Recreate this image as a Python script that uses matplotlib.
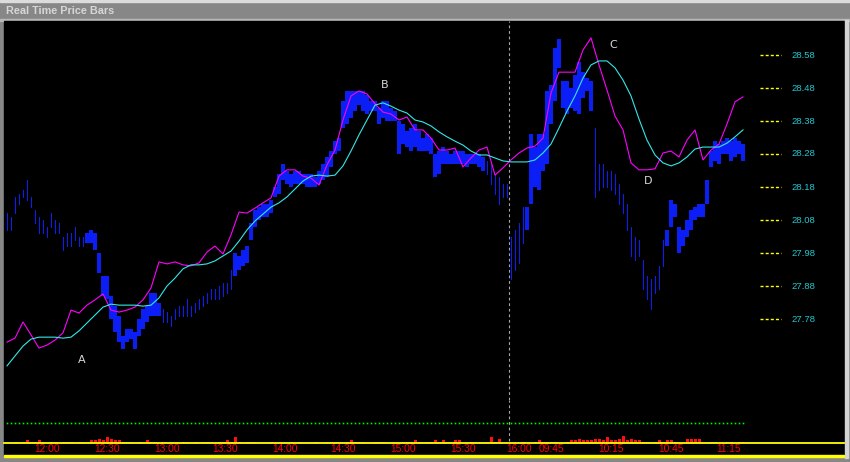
import numpy as np
import matplotlib.pyplot as plt
from matplotlib.patches import Rectangle

# 2-minute price bars (high / low)
bar_high = [
    28.10, 28.09, 28.15, 28.16, 28.17, 28.20, 28.15, 28.11, 28.09, 28.08,
    28.06, 28.10, 28.08, 28.07, 28.03, 28.04, 28.04, 28.06, 28.03, 28.03,
    28.04, 28.05, 28.04, 27.98, 27.91, 27.91, 27.85, 27.82, 27.79, 27.73,
    27.75, 27.75, 27.74, 27.78, 27.81, 27.82, 27.86, 27.86, 27.83, 27.81,
    27.80, 27.79, 27.81, 27.82, 27.82, 27.84, 27.82, 27.83, 27.84, 27.85,
    27.86, 27.87, 27.87, 27.88, 27.89, 27.89, 27.93, 27.98, 27.97, 27.99,
    28.00, 28.07, 28.11, 28.12, 28.13, 28.13, 28.14, 28.18, 28.22, 28.25,
    28.23, 28.22, 28.23, 28.23, 28.22, 28.22, 28.22, 28.21, 28.23, 28.25,
    28.27, 28.29, 28.32, 28.33, 28.44, 28.47, 28.47, 28.47, 28.47, 28.47,
    28.46, 28.44, 28.44, 28.42, 28.44, 28.44, 28.42, 28.41, 28.38, 28.37,
    28.35, 28.36, 28.37, 28.35, 28.33, 28.34, 28.33, 28.28, 28.29, 28.30,
    28.29, 28.28, 28.29, 28.29, 28.29, 28.28, 28.28, 28.28, 28.28, 28.27,
    28.26, 28.25, 28.22, 28.21, 28.19, 28.19, 28.03, 28.05, 28.07, 28.12,
    28.12, 28.34, 28.30, 28.34, 28.34, 28.47, 28.49, 28.60, 28.63, 28.50,
    28.50, 28.48, 28.52, 28.56, 28.53, 28.51, 28.50, 28.36, 28.25, 28.25,
    28.23, 28.23, 28.22, 28.19, 28.16, 28.13, 28.06, 28.03, 28.02, 27.96,
    27.91, 27.90, 27.91, 27.94, 28.02, 28.05, 28.14, 28.13, 28.06, 28.05,
    28.08, 28.11, 28.12, 28.13, 28.13, 28.20, 28.29, 28.32, 28.31, 28.32,
    28.33, 28.32, 28.33, 28.32, 28.31,
]
bar_low = [
    28.05, 28.05, 28.10, 28.13, 28.15, 28.14, 28.12, 28.07, 28.04, 28.04,
    28.03, 28.06, 28.04, 28.04, 27.99, 28.00, 28.00, 28.02, 28.00, 28.00,
    28.01, 28.01, 27.99, 27.92, 27.85, 27.84, 27.78, 27.74, 27.71, 27.69,
    27.71, 27.72, 27.69, 27.73, 27.75, 27.77, 27.79, 27.79, 27.79, 27.77,
    27.77, 27.76, 27.78, 27.79, 27.79, 27.79, 27.79, 27.80, 27.81, 27.82,
    27.83, 27.84, 27.84, 27.84, 27.85, 27.86, 27.87, 27.91, 27.93, 27.94,
    27.95, 28.02, 28.06, 28.08, 28.09, 28.09, 28.10, 28.15, 28.16, 28.20,
    28.19, 28.18, 28.19, 28.19, 28.19, 28.18, 28.18, 28.18, 28.19, 28.20,
    28.21, 28.24, 28.28, 28.29, 28.36, 28.37, 28.39, 28.41, 28.43, 28.41,
    28.40, 28.41, 28.41, 28.37, 28.39, 28.38, 28.38, 28.38, 28.28, 28.31,
    28.30, 28.29, 28.30, 28.29, 28.29, 28.29, 28.28, 28.21, 28.22, 28.25,
    28.25, 28.25, 28.25, 28.25, 28.25, 28.24, 28.25, 28.25, 28.24, 28.23,
    28.22, 28.19, 28.16, 28.13, 28.15, 28.15, 27.90, 27.93, 27.95, 28.01,
    28.05, 28.13, 28.18, 28.17, 28.23, 28.25, 28.37, 28.44, 28.54, 28.42,
    28.40, 28.42, 28.41, 28.40, 28.45, 28.47, 28.41, 28.15, 28.17, 28.18,
    28.18, 28.17, 28.16, 28.13, 28.10, 28.05, 27.97, 27.96, 27.97, 27.87,
    27.84, 27.81, 27.86, 27.87, 27.94, 28.00, 28.06, 28.09, 27.98, 28.00,
    28.03, 28.05, 28.08, 28.09, 28.09, 28.13, 28.24, 28.26, 28.25, 28.28,
    28.28, 28.26, 28.27, 28.28, 28.26,
]

# runs of bars drawn heavy (1) or thin (0): (number of bars, state)
bar_runs = [(20, 0), (19, 1), (18, 0), (63, 1), (10, 0), (17, 1), (18, 0), (20, 1)]

# moving averages, one value every second bar
fast_avg = [
    27.710, 27.722, 27.771, 27.732, 27.692, 27.701, 27.716, 27.738, 27.807, 27.798,
    27.822, 27.838, 27.856, 27.807, 27.801, 27.807, 27.816, 27.838, 27.874, 27.953,
    27.947, 27.953, 27.944, 27.941, 27.950, 27.983, 28.001, 27.977, 28.035, 28.104,
    28.101, 28.116, 28.132, 28.147, 28.213, 28.232, 28.232, 28.213, 28.207, 28.186,
    28.247, 28.292, 28.383, 28.456, 28.471, 28.462, 28.432, 28.407, 28.401, 28.383,
    28.392, 28.353, 28.353, 28.328, 28.292, 28.292, 28.298, 28.241, 28.268, 28.292,
    28.301, 28.216, 28.238, 28.262, 28.283, 28.298, 28.304, 28.328, 28.465, 28.528,
    28.528, 28.528, 28.595, 28.632, 28.550, 28.474, 28.395, 28.353, 28.253, 28.232,
    28.232, 28.235, 28.283, 28.289, 28.271, 28.322, 28.353, 28.262, 28.292, 28.310,
    28.371, 28.438, 28.453,
]
slow_avg = [
    27.638, 27.668, 27.698, 27.719, 27.725, 27.725, 27.725, 27.722, 27.725, 27.744,
    27.768, 27.792, 27.816, 27.825, 27.822, 27.822, 27.822, 27.819, 27.822, 27.844,
    27.880, 27.904, 27.932, 27.944, 27.944, 27.947, 27.956, 27.971, 27.986, 28.016,
    28.050, 28.077, 28.098, 28.119, 28.132, 28.150, 28.174, 28.198, 28.213, 28.216,
    28.213, 28.216, 28.244, 28.289, 28.338, 28.383, 28.428, 28.435, 28.425, 28.413,
    28.404, 28.383, 28.377, 28.365, 28.347, 28.332, 28.319, 28.307, 28.289, 28.277,
    28.277, 28.268, 28.259, 28.256, 28.256, 28.256, 28.262, 28.283, 28.310, 28.359,
    28.410, 28.456, 28.510, 28.550, 28.562, 28.562, 28.541, 28.504, 28.456, 28.386,
    28.322, 28.277, 28.253, 28.244, 28.253, 28.271, 28.295, 28.301, 28.301, 28.301,
    28.313, 28.332, 28.353,
]

volume = [
    1, 0, 1, 0, 1, 2, 1, 1, 2, 1,
    0, 1, 1, 0, 1, 1, 1, 0, 1, 1,
    0, 2, 2, 3, 2, 4, 3, 2, 2, 1,
    1, 1, 0, 1, 0, 2, 1, 1, 0, 1,
    0, 0, 0, 0, 1, 1, 0, 1, 0, 1,
    1, 0, 0, 1, 1, 2, 1, 4, 1, 0,
    1, 1, 1, 0, 0, 0, 1, 0, 0, 0,
    0, 0, 0, 1, 0, 0, 0, 1, 0, 0,
    1, 1, 1, 1, 0, 1, 2, 1, 1, 1,
    0, 0, 1, 1, 1, 0, 0, 0, 0, 1,
    1, 1, 2, 1, 0, 1, 1, 2, 1, 2,
    1, 0, 2, 2, 0, 0, 1, 1, 1, 0,
    0, 4, 1, 3, 0, 0, 0, 0, 0, 1,
    0, 0, 1, 2, 1, 1, 1, 1, 0, 0,
    1, 2, 2, 3, 2, 2, 2, 3, 3, 2,
    4, 2, 2, 3, 5, 2, 3, 2, 2, 1,
    1, 0, 1, 2, 1, 2, 2, 1, 0, 0,
    3, 3, 3, 3, 0, 0, 1, 1, 0, 0,
    1, 1, 0, 1, 1,
]

time_labels = ["12:00", "12:30", "13:00", "13:30", "14:00", "14:30", "15:00",
               "15:30", "16:00", "09:45", "10:15", "10:45", "11:15"]
time_bars = [10, 25, 40, 54.5, 69.5, 84, 99, 114, 128, 136, 151, 166, 180.5]
price_levels = [28.58, 28.48, 28.38, 28.28, 28.18, 28.08, 27.98, 27.88, 27.78]
session_end = 125  # last bar of the first day

swing_names = ["A", "B", "C", "D"]
swing_bars = [18.75, 94.5, 151.5, 160.25]
swing_prices = [27.656, 28.489, 28.61, 28.198]

W, H = 850, 462
fig = plt.figure(figsize=(W / 100, H / 100), dpi=100, facecolor="#878787")

def box(x0, y0, x1, y1, color):
    # rectangle given in pixels from the top left corner
    fig.patches.append(Rectangle((x0 / W, 1 - y1 / H), (x1 - x0) / W, (y1 - y0) / H,
                                 transform=fig.transFigure, color=color, zorder=-10))

box(0, 0, W, 1.5, "#dcdcdc")
box(0, 19, W, 20.5, "#b8b8b8")
box(4, 20.5, 844, 456, "black")
box(845, 20, 847.5, 458, "#d4d4d4")
box(4, 455, 844, 457, "#ffff00")
fig.text(6 / W, 1 - 10.5 / H, "Real Time Price Bars", color="#d6d6d6", fontsize=7.8,
         fontweight="bold", family="Liberation Sans", va="center", ha="left")

# price panel: one bar every 4 pixels
ax = fig.add_axes([4 / W, 1 - 400 / H, 840 / W, 379.5 / H])
ax.set_axis_off()
ax.set_xlim(-0.75, 209.25)
ax.set_ylim(28.58 - 345 / 330, 28.58 + 34.5 / 330)

x = np.arange(len(bar_high))
lo = np.array(bar_low)
hi = np.array(bar_high)
heavy = np.repeat([s for n, s in bar_runs], [n for n, s in bar_runs]).astype(bool)
ax.vlines(x[~heavy], lo[~heavy], hi[~heavy], colors="#0a1ef5", lw=0.7,
          antialiased=False)
ax.vlines(x[heavy], lo[heavy], hi[heavy], colors="#0a1ef5", lw=1.45,
          antialiased=False)
ax.plot(np.arange(len(fast_avg)) * 2, fast_avg, color="#ff00ff", lw=0.8)
ax.plot(np.arange(len(slow_avg)) * 2, slow_avg, color="#33e8e8", lw=0.8)
ax.axvline(session_end + 0.5, color="#a8a8a8", lw=0.8, dashes=(2.5, 2.5))

for name, b, p in zip(swing_names, swing_bars, swing_prices):
    ax.text(b, p, name, color="#d8d8d8", fontsize=8, ha="center", va="center",
            family="DejaVu Sans")

ty = ax.get_yaxis_transform()
for p in price_levels:
    ax.plot([0.900, 0.925], [p, p], transform=ty, color="#ffff00", lw=1.0,
            dashes=(2.2, 1.5))
    ax.text(0.937, p, f"{p:.2f}", transform=ty, color="#20c8d0", fontsize=6.8,
            family="Liberation Sans", va="center", ha="left")

# volume panel
axv = fig.add_axes([4 / W, 1 - 443 / H, 840 / W, 43 / H])
axv.set_axis_off()
axv.set_xlim(ax.get_xlim())
axv.set_ylim(0, 29)
axv.vlines(x, 0, volume, colors="#ff1010", lw=1.0, antialiased=False)
tx = axv.get_xaxis_transform()
axv.plot(x, np.full(len(x), 0.465), transform=tx, ls="none", marker="s",
         ms=1.2, mew=0, color="#00f000")
axv.axhline(0, color="#ffff00", lw=1.3, clip_on=False)
axv.axvline(session_end + 0.5, ymin=0.05, color="#a8a8a8", lw=0.8, dashes=(2.5, 2.5))
for lab, b in zip(time_labels, time_bars):
    axv.text(b, -0.14, lab, transform=tx, color="#ff0000", fontsize=7.4,
             family="Liberation Sans", ha="center", va="center")

fig.savefig("out.png", dpi=100, facecolor=fig.get_facecolor())
